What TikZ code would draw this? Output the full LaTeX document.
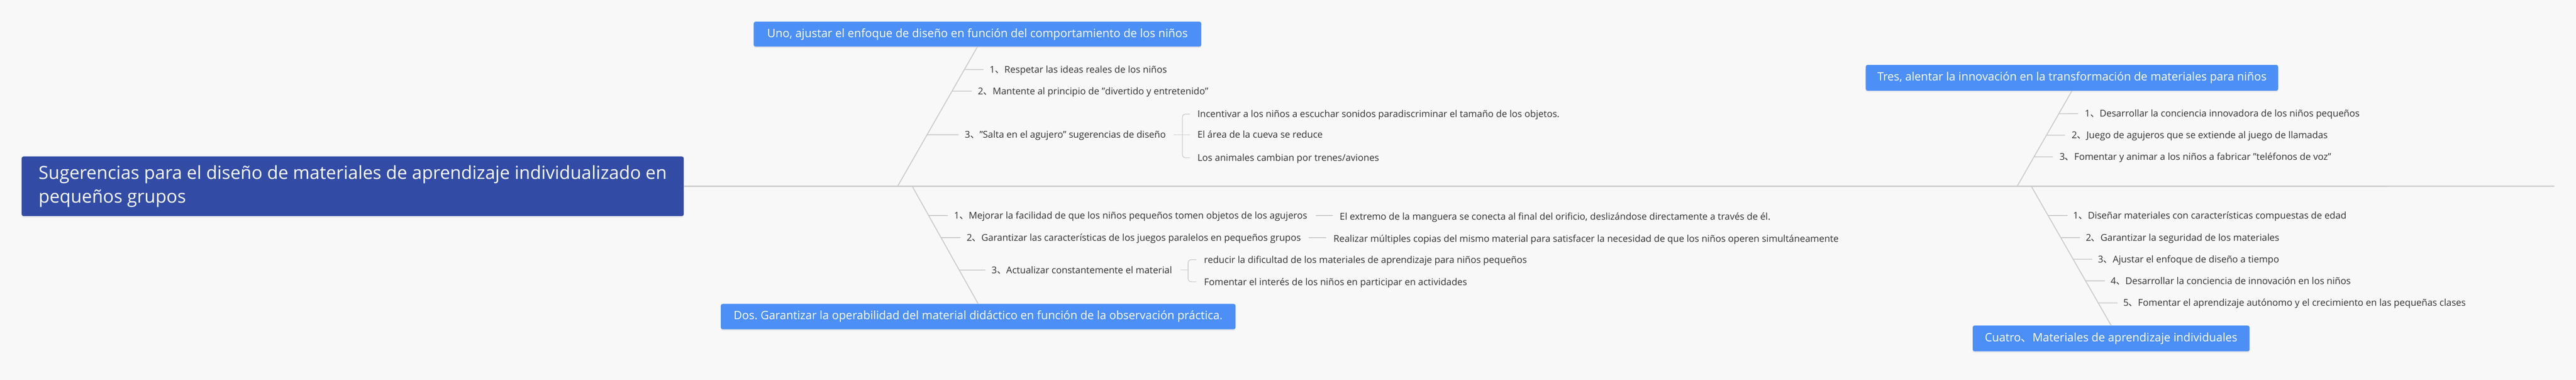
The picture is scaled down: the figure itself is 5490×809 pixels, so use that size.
\documentclass[tikz,border=0pt]{standalone}
\usepackage{fontspec}
\setmainfont{Open Sans}
\newfontfamily\cjkfont{Noto Sans CJK SC}
\newcommand{\dunhao}{{\cjkfont 、}}
\usetikzlibrary{calc,shadows}
\definecolor{bgc}{HTML}{F8F8F8}
\definecolor{rootblue}{HTML}{324CA6}
\definecolor{topicblue}{HTML}{4C8FF7}
\definecolor{linegray}{HTML}{CBCBCB}
\definecolor{txtgray}{HTML}{333333}
\frenchspacing
\begin{document}
\frenchspacing
\begin{tikzpicture}[x=1pt,y=-1pt,
  rootbox/.style={fill=rootblue,text=white,rounded corners=4pt,anchor=north west,
    inner sep=0pt,align=left,font=\fontsize{38.4}{51}\selectfont,
    drop shadow={opacity=0.12,shadow xshift=0pt,shadow yshift=-3pt}},
  topic/.style={fill=topicblue,text=white,rounded corners=4pt,anchor=north west,
    inner sep=0pt,font=\fontsize{24.5}{29}\selectfont,
    drop shadow={opacity=0.12,shadow xshift=0pt,shadow yshift=-3pt}},
  item/.style={anchor=west,inner sep=0pt,text=txtgray,font=\fontsize{20}{24}\selectfont,
    text height=19pt,text depth=4.6pt},
  mainline/.style={draw=linegray,line width=3pt},
  branch/.style={draw=linegray,line width=2pt},
  conn/.style={draw=linegray,line width=2pt},
  bracket/.style={draw=linegray,line width=1.5pt,rounded corners=7pt}]

\fill[bgc] (0,0) rectangle (5490,809);
\useasboundingbox (0,0) rectangle (5490,809);

% root
\node[rootbox,minimum width=1411pt,minimum height=127pt] (R) at (46,333)
  {Sugerencias para el diseño de materiales de aprendizaje individualizado en\\pequeños grupos};
\coordinate (ME) at (5444,396.5);
\draw[mainline] (R.east) -- (ME);

% topic boxes
\node[topic,minimum width=954pt,minimum height=53pt] (U) at (1606,46)
  {Uno, ajustar el enfoque de diseño en función del comportamiento de los niños};
\node[topic,minimum width=1097pt,minimum height=54pt] (D) at (1536,647)
  {Dos. Garantizar la operabilidad del material didáctico en función de la observación práctica.};
\node[topic,minimum width=879pt,minimum height=55pt] (T) at (3976,138)
  {Tres, alentar la innovación en la transformación de materiales para niños};
\node[topic,minimum width=590pt,minimum height=55pt] (C) at (4204,693)
  {Cuatro\dunhao Materiales de aprendizaje individuales};

\coordinate (UJ) at (1913,396.5);
\coordinate (DJ) at (1944,396.5);
\coordinate (TJ) at (4299,396.5);
\coordinate (CJ) at (4329,396.5);
\draw[branch] (U.south) -- (UJ);
\draw[branch] (DJ) -- (D.north);
\draw[branch] (T.south) -- (TJ);
\draw[branch] (CJ) -- (C.north);

% Uno items
\node[item] (u1) at (2109,148) {1\dunhao Respetar las ideas reales de los niños};
\node[item] (u2) at (2084,194) {2\dunhao Mantente al principio de "divertido y entretenido"};
\node[item] (u3) at (2056,287) {3\dunhao "Salta en el agujero" sugerencias de diseño};
\foreach \n in {u1,u2,u3}
  \draw[conn] (intersection of U.south--UJ and \n.west--\n.east) -- ([xshift=-13pt]\n.west);
\node[item] (u31) at ([xshift=67pt,yshift=44pt]u3.east) {Incentivar a los niños a escuchar sonidos paradiscriminar el tamaño de los objetos.};
\node[item] (u32) at ([xshift=67pt]u3.east) {El área de la cueva se reduce};
\node[item] (u33) at ([xshift=67pt,yshift=-49pt]u3.east) {Los animales cambian por trenes/aviones};
\coordinate (u3b) at ([xshift=35pt]u3.east);
\draw[conn,line width=1.5pt] ([xshift=16pt]u3.east) -- ([xshift=-16pt]u32.west);
\draw[bracket] ([xshift=-16pt]u31.west) -- (u3b |- u31.west) -- (u3b |- u33.west) -- ([xshift=-16pt]u33.west);

% Dos items
\node[item] (d1) at (2033,459) {1\dunhao Mejorar la facilidad de que los niños pequeños tomen objetos de los agujeros};
\node[item] (d2) at (2060,506) {2\dunhao Garantizar las características de los juegos paralelos en pequeños grupos};
\node[item] (d3) at (2113,575) {3\dunhao Actualizar constantemente el material};
\foreach \n in {d1,d2,d3}
  \draw[conn] (intersection of DJ--D.north and \n.west--\n.east) -- ([xshift=-13pt]\n.west);
\node[item] (d11) at ([xshift=69pt,yshift=-2pt]d1.east) {El extremo de la manguera se conecta al final del orificio, deslizándose directamente a través de él.};
\draw[conn] ([xshift=18pt]d1.east) -- ([xshift=-15pt]d11.west |- d1.east);
\node[item] (d21) at ([xshift=69pt,yshift=-2pt]d2.east) {Realizar múltiples copias del mismo material para satisfacer la necesidad de que los niños operen simultáneamente};
\draw[conn] ([xshift=16pt]d2.east) -- ([xshift=-15pt]d21.west |- d2.east);
\node[item] (d31) at ([xshift=68pt,yshift=22pt]d3.east) {reducir la dificultad de los materiales de aprendizaje para niños pequeños};
\node[item] (d32) at ([xshift=68pt,yshift=-25pt]d3.east) {Fomentar el interés de los niños en participar en actividades};
\coordinate (d3b) at ([xshift=34pt]d3.east);
\draw[conn,line width=1.5pt] ([xshift=17pt]d3.east) -- (d3b);
\draw[bracket] ([xshift=-16pt]d31.west) -- (d3b |- d31.west) -- (d3b |- d32.west) -- ([xshift=-16pt]d32.west);

% Tres items
\node[item] (t1) at (4443,242) {1\dunhao Desarrollar la conciencia innovadora de los niños pequeños};
\node[item] (t2) at (4415,288) {2\dunhao Juego de agujeros que se extiende al juego de llamadas};
\node[item] (t3) at (4389,334) {3\dunhao Fomentar y animar a los niños a fabricar "teléfonos de voz"};
\foreach \n in {t1,t2,t3}
  \draw[conn] (intersection of T.south--TJ and \n.west--\n.east) -- ([xshift=-14pt]\n.west);

% Cuatro items
\node[item] (c1) at (4418,459) {1\dunhao Diseñar materiales con características compuestas de edad};
\node[item] (c2) at (4445,506) {2\dunhao Garantizar la seguridad de los materiales};
\node[item] (c3) at (4471,552) {3\dunhao Ajustar el enfoque de diseño a tiempo};
\node[item] (c4) at (4498,598) {4\dunhao Desarrollar la conciencia de innovación en los niños};
\node[item] (c5) at (4525,645) {5\dunhao Fomentar el aprendizaje autónomo y el crecimiento en las pequeñas clases};
\foreach \n in {c1,c2,c3,c4,c5}
  \draw[conn] (intersection of CJ--C.north and \n.west--\n.east) -- ([xshift=-12pt]\n.west);
\end{tikzpicture}
\end{document}
